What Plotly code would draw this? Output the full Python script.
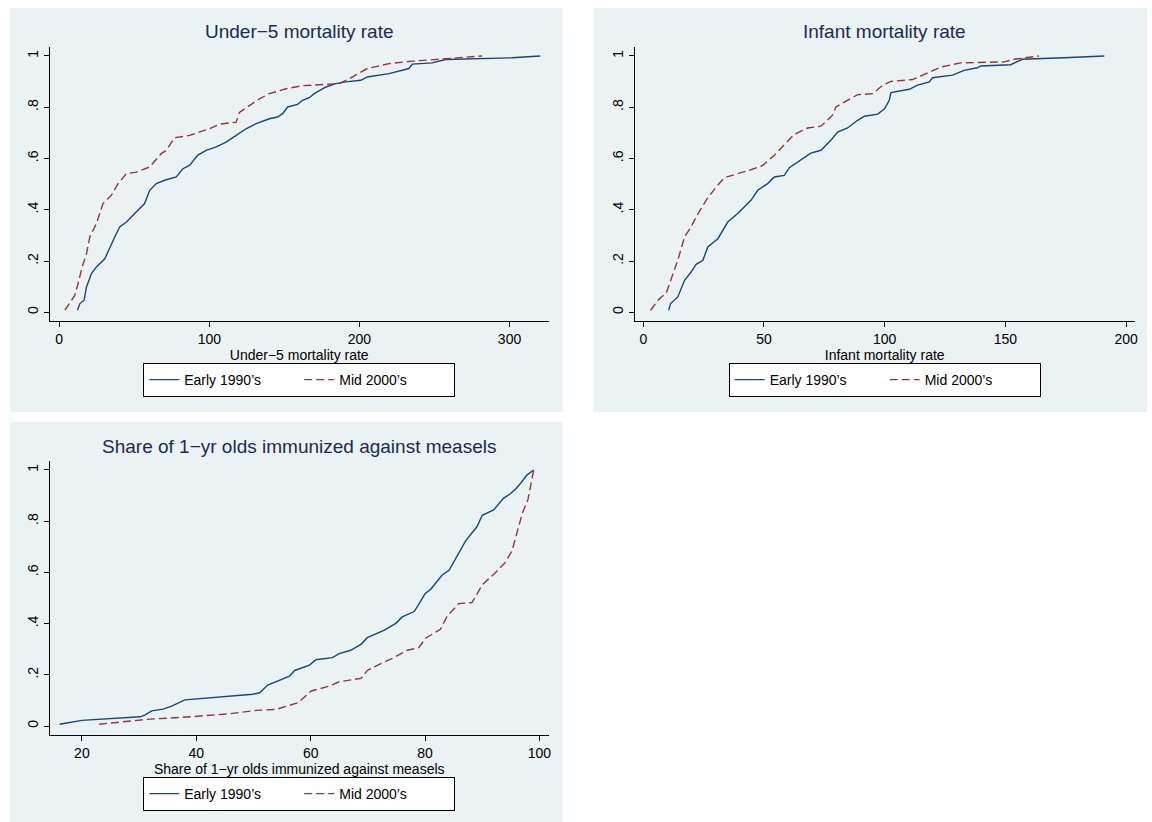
import plotly.graph_objects as go

# ---------------- data ----------------
u5_early_x = [12.2, 13.8, 16.6, 18.2, 21.5, 24.8, 30.4, 33.7, 37, 40.3, 44.8, 50.3, 56.9, 60.3, 64.7, 70.2, 78, 82.4,
              86.8, 92.4, 97.9, 104.6, 111.2, 117.9, 124.5, 131.2, 140, 145.5, 148.8, 152.2, 158.8, 162.1, 166.6,
              169.9, 177.7, 184.3, 191, 200.9, 205.3, 219.7, 233, 235.2, 248.5, 257.4, 301.7, 320.5]
u5_early_y = [0.008, 0.034, 0.047, 0.099, 0.151, 0.177, 0.209, 0.255, 0.294, 0.333, 0.352, 0.385, 0.424, 0.476,
              0.502, 0.515, 0.528, 0.56, 0.573, 0.613, 0.632, 0.645, 0.664, 0.69, 0.716, 0.736, 0.755, 0.762, 0.775,
              0.801, 0.811, 0.827, 0.837, 0.853, 0.879, 0.892, 0.899, 0.905, 0.918, 0.931, 0.951, 0.968, 0.973,
              0.986, 0.993, 1.0]
u5_mid_x = [3.8, 10.4, 12.6, 15.3, 18.2, 20.4, 24.8, 29.2, 34.8, 39.2, 44.8, 51.4, 60.3, 68, 71.4, 76.9, 86.8,
            100.1, 106.8, 117.9, 120.1, 126.7, 133.4, 140, 151.1, 162.1, 186.5, 193.2, 205.3, 219.7, 235.2, 257.4,
            281.7]
u5_mid_y = [0.008, 0.066, 0.112, 0.177, 0.229, 0.294, 0.346, 0.424, 0.457, 0.502, 0.541, 0.547, 0.567, 0.619,
            0.632, 0.681, 0.69, 0.716, 0.734, 0.742, 0.78, 0.808, 0.833, 0.853, 0.872, 0.884, 0.892, 0.911, 0.951,
            0.97, 0.98, 0.989, 1.0]

imr_early_x = [10.5, 11.3, 14.3, 17.1, 19.8, 21.9, 24.7, 26.7, 30.9, 35, 39.1, 44.6, 47.4, 51.5, 54.3, 58.4, 60.5,
               63.9, 69.4, 73.6, 77.7, 80.5, 84.6, 88.8, 91.6, 97.1, 99.9, 101.9, 102.6, 110.2, 113.6, 118.5, 119.8,
               128.1, 132.9, 138.4, 139.8, 152.2, 157, 174.3, 191]
imr_early_y = [0.008, 0.034, 0.06, 0.125, 0.157, 0.187, 0.203, 0.255, 0.287, 0.352, 0.385, 0.437, 0.476, 0.502,
               0.528, 0.534, 0.564, 0.586, 0.621, 0.632, 0.671, 0.703, 0.719, 0.749, 0.765, 0.773, 0.794, 0.827,
               0.857, 0.87, 0.886, 0.899, 0.915, 0.925, 0.944, 0.954, 0.961, 0.966, 0.987, 0.993, 1.0]
imr_mid_x = [3, 6.7, 9.5, 11.9, 14.3, 17.1, 19.8, 21.9, 26, 30.2, 33.6, 39.1, 44.6, 49.5, 54.3, 62.5, 68.1, 73.6,
             78.4, 79.8, 84.6, 88.8, 95, 99.2, 102.6, 111.6, 115.7, 123.3, 131.5, 149.5, 153.6, 163.9]
imr_mid_y = [0.008, 0.053, 0.075, 0.138, 0.203, 0.294, 0.333, 0.372, 0.437, 0.489, 0.525, 0.541, 0.556, 0.573,
             0.613, 0.694, 0.719, 0.726, 0.769, 0.801, 0.826, 0.849, 0.853, 0.886, 0.901, 0.908, 0.925, 0.957,
             0.973, 0.977, 0.987, 1.0]

mea_early_x = [16.1, 20, 30.2, 31, 32.2, 34.2, 35.7, 38, 49.9, 51.1, 52.5, 54.5, 56.3, 57.2, 59.8, 60.9, 63.8, 65,
               67, 68.8, 69.9, 72.8, 74.9, 76, 78.1, 78.9, 80, 81, 83, 84.2, 85.9, 87.1, 89.1, 90, 92, 92.9, 93.7,
               94.9, 95.8, 96.8, 97.8, 99]
mea_early_y = [0.007, 0.022, 0.036, 0.043, 0.059, 0.066, 0.078, 0.102, 0.124, 0.13, 0.16, 0.178, 0.195, 0.217,
               0.238, 0.259, 0.267, 0.283, 0.296, 0.319, 0.345, 0.374, 0.401, 0.426, 0.447, 0.475, 0.517, 0.534,
               0.59, 0.608, 0.677, 0.723, 0.779, 0.823, 0.844, 0.868, 0.889, 0.907, 0.925, 0.95, 0.98, 1.0]
mea_mid_x = [23, 31.3, 38.3, 45.8, 50.5, 54, 57.8, 60.1, 63.3, 65, 68.8, 69.9, 72, 74.3, 76.9, 78.9, 80.1, 82.7,
             83.9, 85.9, 88.2, 90, 92.3, 94, 95.2, 96, 97, 98, 99]
mea_mid_y = [0.007, 0.026, 0.035, 0.048, 0.061, 0.065, 0.091, 0.137, 0.156, 0.173, 0.186, 0.217, 0.241, 0.264,
             0.296, 0.306, 0.343, 0.378, 0.43, 0.478, 0.482, 0.551, 0.599, 0.638, 0.684, 0.75, 0.83, 0.885, 1.0]

series_names = ["Early 1990\u2019s", "Mid 2000\u2019s"]
panel_titles = ["Under\u22125 mortality rate", "Infant mortality rate",
                "Share of 1\u2212yr olds immunized against measels"]
y_tickvals = [0, 0.2, 0.4, 0.6, 0.8, 1]
y_ticktext = ["0", ".2", ".4", ".6", ".8", "1"]
x_tickvals = [[0, 100, 200, 300], [0, 50, 100, 150, 200], [20, 40, 60, 80, 100]]

# ---------------- styling ----------------
W, H = 1152, 822
BLUE = "#1A476F"
RED = "#90353B"
PANEL = "#EAF2F3"
TITLE_C = "#1C2B4F"
FONT = "Liberation Sans, Arial, sans-serif"


def px_x(p):
    return p / W


def px_y(p):
    return 1 - p / H


panels = [
    dict(px=(50, 550), py=(47, 321), xr=[-6.2, 326], yr=[-0.034, 1.035], box=(10, 8, 564, 412), title_y=32,
         leg=(300, 363)),
    dict(px=(636.5, 1137.5), py=(47, 321), xr=[-3.5, 203.5], yr=[-0.034, 1.035], box=(595, 8, 1150, 412),
         title_y=32, leg=(887, 363)),
    dict(px=(50, 550), py=(461, 735), xr=[14.4, 101.6], yr=[-0.035, 1.035], box=(10, 422, 564, 826),
         title_y=446, leg=(300, 777)),
]
data = [(u5_early_x, u5_early_y, u5_mid_x, u5_mid_y),
        (imr_early_x, imr_early_y, imr_mid_x, imr_mid_y),
        (mea_early_x, mea_early_y, mea_mid_x, mea_mid_y)]

fig = go.Figure()
shapes = []
annotations = []
layout = dict(width=W, height=H, margin=dict(l=0, r=0, t=0, b=0), paper_bgcolor="white", plot_bgcolor="white",
              font=dict(family=FONT, size=14, color="black"), showlegend=True)

for i, (p, d) in enumerate(zip(panels, data)):
    n = "" if i == 0 else str(i + 1)
    leg = "legend" + n
    ex, ey, mx, my = d
    fig.add_trace(go.Scatter(x=ex, y=ey, mode="lines", name=series_names[0], xaxis="x" + n, yaxis="y" + n,
                             line=dict(color=BLUE, width=1.4), legend=leg, hoverinfo="skip"))
    fig.add_trace(go.Scatter(x=mx, y=my, mode="lines", name=series_names[1], xaxis="x" + n, yaxis="y" + n,
                             line=dict(color=RED, width=1.4, dash="8px,4px"), legend=leg, hoverinfo="skip"))
    x0, y0, x1, y1 = p["box"]
    shapes.append(dict(type="rect", xref="paper", yref="paper", x0=px_x(x0), x1=px_x(x1), y0=px_y(y1),
                       y1=px_y(y0), fillcolor=PANEL, line=dict(width=0), layer="below"))
    layout["xaxis" + n] = dict(domain=[px_x(p["px"][0]), px_x(p["px"][1])], range=p["xr"], anchor="y" + n,
                               tickvals=x_tickvals[i], ticks="outside", ticklen=5, tickcolor="black",
                               showline=True, linecolor="black", linewidth=1, showgrid=False, zeroline=False,
                               tickfont=dict(size=14), title=dict(text=panel_titles[i], font=dict(size=14),
                                                                  standoff=0))
    layout["yaxis" + n] = dict(domain=[px_y(p["py"][1]), px_y(p["py"][0])], range=p["yr"], anchor="x" + n,
                               tickvals=y_tickvals, ticktext=y_ticktext, tickangle=-90, ticks="outside",
                               ticklen=5, tickcolor="black", showline=True, linecolor="black", linewidth=1,
                               showgrid=True, gridcolor=PANEL, gridwidth=1, zeroline=False,
                               tickfont=dict(size=14))
    cx = (p["px"][0] + p["px"][1]) / 2
    annotations.append(dict(text=panel_titles[i], xref="paper", yref="paper", x=px_x(cx), y=px_y(p["title_y"]),
                            xanchor="center", yanchor="middle", showarrow=False,
                            font=dict(size=19, color=TITLE_C)))
    layout[leg] = dict(orientation="h", x=px_x(p["leg"][0]), y=px_y(p["leg"][1]), xanchor="center",
                       yanchor="top", bgcolor="white", bordercolor="black", borderwidth=1,
                       font=dict(size=14, color="black"), entrywidth=110, entrywidthmode="pixels",
                       itemclick=False, itemdoubleclick=False)

layout["shapes"] = shapes
layout["annotations"] = annotations
fig.update_layout(**layout)
fig.write_html("out.html", config={"displayModeBar": False},
               post_script="document.body.style.margin='0';document.body.style.overflow='hidden';")
